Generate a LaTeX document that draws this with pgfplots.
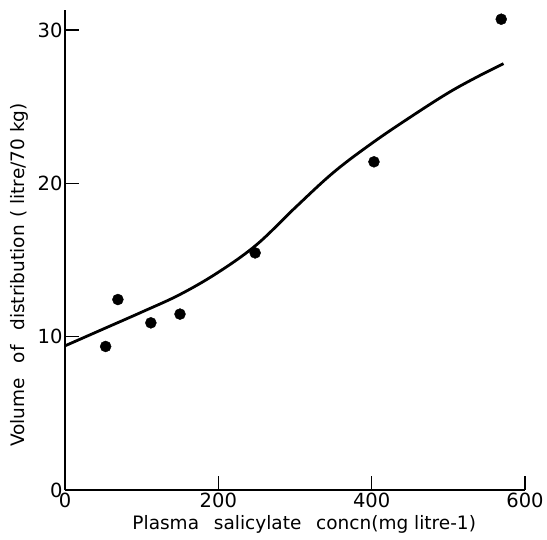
\documentclass[border=0pt]{standalone}
\usepackage{pgfplots}
\pgfplotsset{compat=1.18}
\usepackage{fontspec}
\setmainfont{DejaVu Sans}
\begin{document}
\begin{tikzpicture}
\useasboundingbox (-65pt,-49pt) rectangle (482pt,490pt);
\begin{axis}[
  at={(0,0)}, anchor=origin,
  scale only axis, width=460pt, height=480pt,
  xmin=0, xmax=600, ymin=0, ymax=31.3,
  axis x line=bottom, axis y line=left,
  axis line style={line width=1.6pt, -},
  xtick={0,200,400,600}, ytick={0,10,20,30},
  tick align=inside, major tick length=14pt,
  tick style={line width=1.4pt, black},
  /pgf/number format/assume math mode=true,
  tick label style={font=\fontsize{19.5}{21}\selectfont},
  xticklabel style={yshift=1pt},
  yticklabel style={xshift=1pt},
  every axis x label/.style={at={(axis description cs:0.52,-0.071)}, anchor=center},
  every axis y label/.style={at={(axis description cs:-0.099,0.448)}, rotate=90, anchor=center},
  xlabel={Plasma\hspace{0.8em}salicylate\hspace{0.8em}concn(mg litre-1)},
  ylabel={Volume\hspace{0.8em}of\hspace{0.8em}distribution\hspace{0.4em}( litre/70 kg)},
  label style={font=\fontsize{18.5}{20}\selectfont},
  clip=false,
]
\addplot[black, line width=2.8pt, smooth, tension=0.6] coordinates {
 (0,9.4) (50,10.5) (100,11.6) (150,12.75) (200,14.2) (250,16.0)
 (300,18.4) (350,20.7) (400,22.6) (450,24.3) (500,25.9) (540,27.0) (572,27.8)
};
\addplot[only marks, mark=*, mark size=5.5pt, black] coordinates {
 (53,9.36) (69,12.42) (112,10.9) (150,11.47) (248,15.46) (403,21.4) (569,30.7)
};
\end{axis}
\end{tikzpicture}
\end{document}
